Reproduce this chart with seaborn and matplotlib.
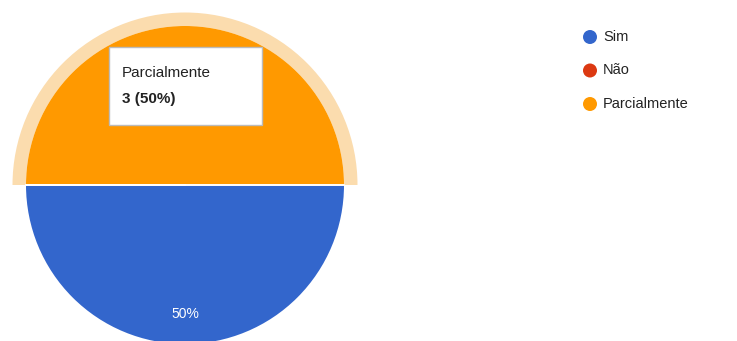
import math
import matplotlib
matplotlib.use("Agg")
import matplotlib.pyplot as plt
from matplotlib.patches import Wedge, Rectangle, Circle
import seaborn as sns

categories = ["Sim", "Não", "Parcialmente"]
counts = [3, 0, 3]
colors = ["#3366CC", "#DC3912", "#FF9900"]
highlighted = "Parcialmente"

sns.set_theme(style="white")
plt.rcParams["font.family"] = ["Liberation Sans", "DejaVu Sans"]

W, H = 737, 341
fig = plt.figure(figsize=(W / 100, H / 100), dpi=100)
ax = fig.add_axes([0, 0, 1, 1])

cx, cy, r = 185, H - 185, 159
total = sum(counts)

palette = sns.color_palette(colors)
wedges, texts, autotexts = ax.pie(
    counts, colors=palette, center=(cx, cy), radius=r,
    startangle=0, counterclock=False,
    autopct=lambda p: f"{p:.0f}%" if p > 0 else "",
    pctdistance=0.81, frame=True,
    wedgeprops=dict(linewidth=0),
    textprops=dict(color="white", fontsize=10),
)
ax.set_xlim(0, W)
ax.set_ylim(0, H)
ax.set_aspect("equal")
ax.axis("off")

# White separators along slice boundaries
for wd in wedges:
    for ang in (wd.theta1, wd.theta2):
        a = math.radians(ang)
        ax.plot([cx, cx + r * math.cos(a)], [cy, cy + r * math.sin(a)],
                color="white", linewidth=1.2, zorder=2)

# Hover halo around the highlighted slice
hi = categories.index(highlighted)
w = wedges[hi]
ax.add_patch(Wedge((cx, cy), r + 13.5, w.theta1, w.theta2, width=13.5,
                   facecolor="#FBDCAE", edgecolor="none", zorder=0.5))

# Tooltip for the highlighted slice
bx, by, bw, bh = 109, H - 125, 153, 78
ax.add_patch(Rectangle((bx, by), bw, bh, facecolor="white",
                       edgecolor="#BBBBBB", linewidth=1, zorder=5))
pct = counts[hi] / total * 100
ax.text(bx + 13, H - 77, highlighted, fontsize=11, color="#222222",
        va="baseline", ha="left", zorder=6)
ax.text(bx + 13, H - 103, f"{counts[hi]} ({pct:.0f}%)", fontsize=11,
        fontweight="bold", color="#222222", va="baseline", ha="left", zorder=6)

# Legend
lx, ly0, step = 590, 37, 33.5
for i, (cat, col) in enumerate(zip(categories, colors)):
    y = H - (ly0 + i * step)
    ax.add_patch(Circle((lx, y), 7, facecolor=col, edgecolor="none"))
    ax.text(lx + 13, y, cat, fontsize=10.5, color="#222222",
            va="center", ha="left")

fig.savefig("out.png", dpi=100)
